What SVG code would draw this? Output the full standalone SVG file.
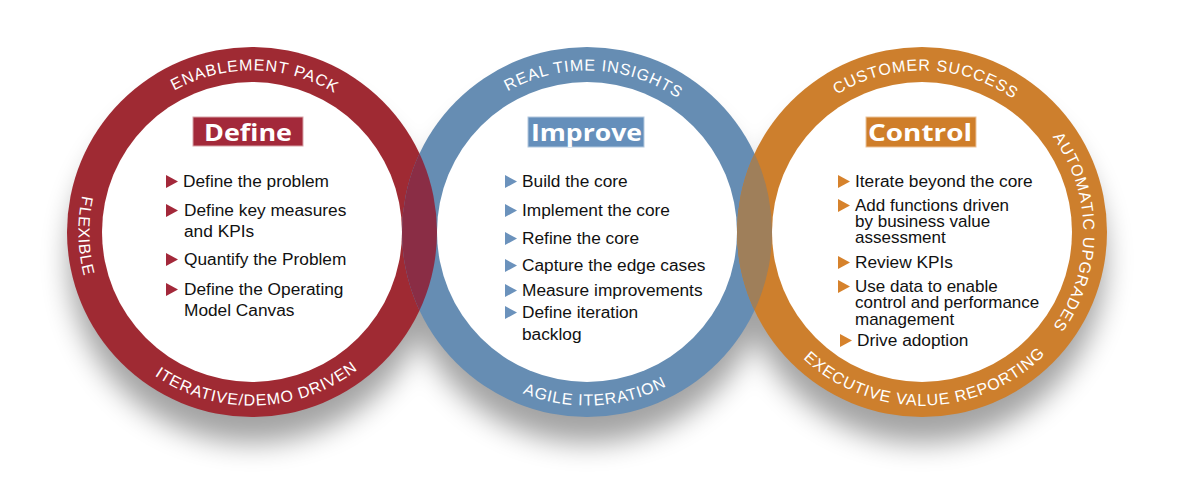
<svg xmlns="http://www.w3.org/2000/svg" xmlns:xlink="http://www.w3.org/1999/xlink" width="1200" height="504" viewBox="0 0 1200 504">
<style>
.ring-lbl{font-family:"Liberation Sans",Arial,sans-serif;font-size:16px;fill:#fff;letter-spacing:0.9px}
.title{font-family:"Open Sans","Liberation Sans",sans-serif;font-size:24px;font-weight:bold;fill:#fff}
.item{font-family:"Liberation Sans",Arial,sans-serif;font-size:17.3px;fill:#111}
.tight{font-size:17px}
.white{fill:#fff}
</style>
<defs>
<filter id="blur" x="-30%" y="-30%" width="160%" height="160%"><feGaussianBlur stdDeviation="14"/></filter>
<clipPath id="clipB"><circle cx="587" cy="232" r="185"/></clipPath>
<clipPath id="clipO"><circle cx="922" cy="232" r="185"/></clipPath>
<path id="rTop" d="M90.5,232 A161.5,161.5 0 1 1 413.5,232 A161.5,161.5 0 1 1 90.5,232"/>
<path id="bTop" d="M425.5,232 A161.5,161.5 0 1 1 748.5,232 A161.5,161.5 0 1 1 425.5,232"/>
<path id="oTop" d="M760.5,232 A161.5,161.5 0 1 1 1083.5,232 A161.5,161.5 0 1 1 760.5,232"/>
<path id="rBot" d="M252,58.5 A173.5,173.5 0 1 0 252,405.5 A173.5,173.5 0 1 0 252,58.5"/>
<path id="bBot" d="M587,58.5 A173.5,173.5 0 1 0 587,405.5 A173.5,173.5 0 1 0 587,58.5"/>
<path id="oBot" d="M922,58.5 A173.5,173.5 0 1 0 922,405.5 A173.5,173.5 0 1 0 922,58.5"/>
</defs>

<g id="shadows" filter="url(#blur)" fill="#000" opacity="0.36">
<circle cx="252" cy="260" r="183"/>
<circle cx="587" cy="260" r="183"/>
<circle cx="922" cy="260" r="183"/>
</g>

<g id="define">
<circle cx="252" cy="232" r="185" fill="#9F2A33"/>
<circle cx="252" cy="232" r="150" class="white"/>
<text class="ring-lbl"><textPath href="#rTop" xlink:href="#rTop" startOffset="25.3%" text-anchor="middle">ENABLEMENT PACK</textPath></text>
<text class="ring-lbl"><textPath href="#rBot" xlink:href="#rBot" startOffset="25.4%" text-anchor="middle">FLEXIBLE</textPath></text>
<text class="ring-lbl"><textPath href="#rBot" xlink:href="#rBot" startOffset="50.5%" text-anchor="middle">ITERATIVE/DEMO DRIVEN</textPath></text>
<rect x="193" y="117" width="110" height="29" fill="#A3293A" stroke="#d8a3a8" stroke-width="1"/>
<text class="title" x="248" y="141" text-anchor="middle" textLength="88" lengthAdjust="spacingAndGlyphs">Define</text>
<g fill="#A3283A">
<polygon points="166,175 166,188 178,181.5"/>
<polygon points="166,204 166,217 178,210.5"/>
<polygon points="166,253 166,266 178,259.5"/>
<polygon points="166,283 166,296 178,289.5"/>
</g>
<text class="item" x="183" y="187">Define the problem</text>
<text class="item" x="184" y="216">Define key measures</text>
<text class="item" x="184" y="237">and KPIs</text>
<text class="item" x="184" y="265">Quantify the Problem</text>
<text class="item" x="184" y="295">Define the Operating</text>
<text class="item" x="184" y="316">Model Canvas</text>
</g>

<g id="improve">
<circle cx="587" cy="232" r="185" fill="#668DB3"/>
<circle cx="587" cy="232" r="150" class="white"/>
<text class="ring-lbl"><textPath href="#bTop" xlink:href="#bTop" startOffset="25.7%" text-anchor="middle">REAL TIME INSIGHTS</textPath></text>
<text class="ring-lbl"><textPath href="#bBot" xlink:href="#bBot" startOffset="50.8%" text-anchor="middle">AGILE ITERATION</textPath></text>
<rect x="528" y="117" width="116" height="30" fill="#658FBB" stroke="#b3c8de" stroke-width="1"/>
<text class="title" x="586.5" y="141" text-anchor="middle" textLength="111" lengthAdjust="spacingAndGlyphs">Improve</text>
<g fill="#6B92BC">
<polygon points="505,175 505,188 517,181.5"/>
<polygon points="505,204 505,217 517,210.5"/>
<polygon points="505,232 505,245 517,238.5"/>
<polygon points="505,259 505,272 517,265.5"/>
<polygon points="505,284 505,297 517,290.5"/>
<polygon points="505,306 505,319 517,312.5"/>
</g>
<text class="item" x="522" y="187">Build the core</text>
<text class="item" x="522" y="216">Implement the core</text>
<text class="item" x="522" y="244">Refine the core</text>
<text class="item" x="522" y="271">Capture the edge cases</text>
<text class="item" x="522" y="296">Measure improvements</text>
<text class="item" x="522" y="318">Define iteration</text>
<text class="item" x="522" y="340">backlog</text>
</g>

<g id="control">
<circle cx="922" cy="232" r="185" fill="#CD7F2D"/>
<circle cx="922" cy="232" r="150" class="white"/>
<text class="ring-lbl"><textPath href="#oTop" xlink:href="#oTop" startOffset="25.4%" text-anchor="middle">CUSTOMER SUCCESS</textPath></text>
<text class="ring-lbl"><textPath href="#oTop" xlink:href="#oTop" startOffset="50%" text-anchor="middle">AUTOMATIC UPGRADES</textPath></text>
<text class="ring-lbl"><textPath href="#oBot" xlink:href="#oBot" startOffset="50.3%" text-anchor="middle">EXECUTIVE VALUE REPORTING</textPath></text>
<rect x="866" y="117" width="110" height="30" fill="#CF7E2A" stroke="#ecc39a" stroke-width="1"/>
<text class="title" x="920" y="141" text-anchor="middle" textLength="104" lengthAdjust="spacingAndGlyphs">Control</text>
<g fill="#D6822C">
<polygon points="838,175 838,188 850,181.5"/>
<polygon points="838,199 838,212 850,205.5"/>
<polygon points="838,256 838,269 850,262.5"/>
<polygon points="838,280 838,293 850,286.5"/>
<polygon points="840,334 840,347 852,340.5"/>
</g>
<text class="item" x="855" y="187">Iterate beyond the core</text>
<text class="item tight" x="855" y="211">Add functions driven</text>
<text class="item tight" x="855" y="227">by business value</text>
<text class="item tight" x="855" y="243">assessment</text>
<text class="item" x="855" y="268">Review KPIs</text>
<text class="item tight" x="855" y="292">Use data to enable</text>
<text class="item tight" x="855" y="308">control and performance</text>
<text class="item tight" x="855" y="325">management</text>
<text class="item" x="857" y="346">Drive adoption</text>
</g>

<g id="connectors">
<circle cx="252" cy="232" r="185" fill="#8A2D45" clip-path="url(#clipB)"/>
<circle cx="587" cy="232" r="185" fill="#9F7F5A" clip-path="url(#clipO)"/>
</g>
</svg>
